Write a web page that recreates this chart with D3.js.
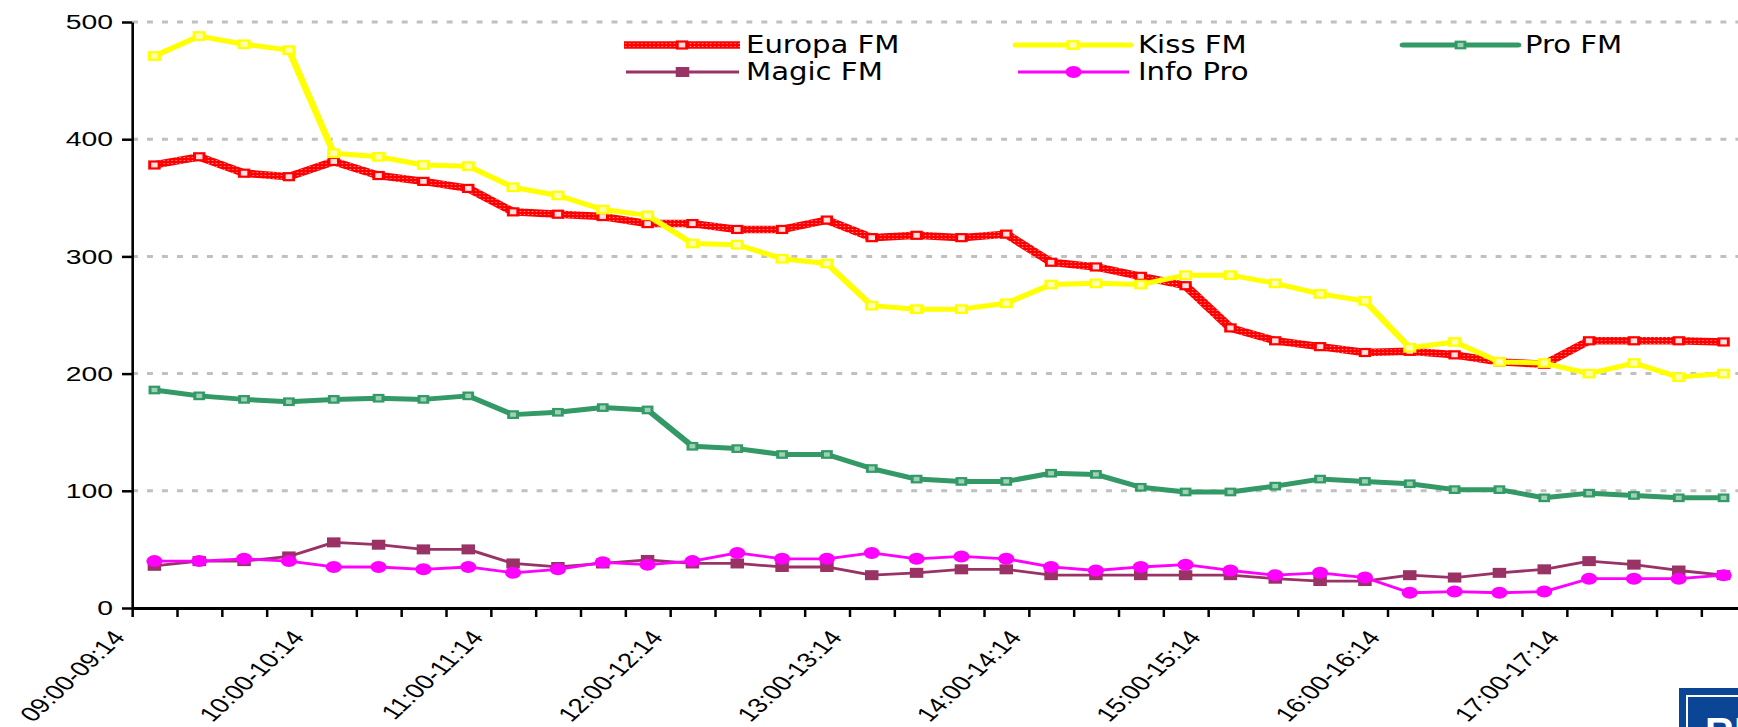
<!DOCTYPE html>
<html>
<head>
<meta charset="utf-8">
<script src="https://cdn.jsdelivr.net/npm/d3@7/dist/d3.min.js"></script>
<style>
  html, body { margin: 0; padding: 0; background: #fff; }
  svg { display: block; }
</style>
</head>
<body>
<div id="chart"></div>
<script>
// ---------------- DATA ----------------
const categories = [
  "09:00-09:14","09:15-09:29","09:30-09:44","09:45-09:59",
  "10:00-10:14","10:15-10:29","10:30-10:44","10:45-10:59",
  "11:00-11:14","11:15-11:29","11:30-11:44","11:45-11:59",
  "12:00-12:14","12:15-12:29","12:30-12:44","12:45-12:59",
  "13:00-13:14","13:15-13:29","13:30-13:44","13:45-13:59",
  "14:00-14:14","14:15-14:29","14:30-14:44","14:45-14:59",
  "15:00-15:14","15:15-15:29","15:30-15:44","15:45-15:59",
  "16:00-16:14","16:15-16:29","16:30-16:44","16:45-16:59",
  "17:00-17:14","17:15-17:29","17:30-17:44","17:45-17:59"
];
const europaFM = [378,385,371,368,381,369,364,358,338,336,334,328,328,323,323,331,316,318,316,319,295,291,283,275,239,228,223,218,219,216,210,208,228,228,228,227];
const kissFM   = [471,488,481,476,388,385,378,377,359,352,340,335,311,310,298,294,258,255,255,260,276,277,276,284,284,277,268,262,222,227,210,209,200,209,197,200];
const proFM    = [186,181,178,176,178,179,178,181,165,167,171,169,138,136,131,131,119,110,108,108,115,114,103,99,99,104,110,108,106,101,101,94,98,96,94,94];
const magicFM  = [36,40,40,44,56,54,50,50,38,35,38,41,38,38,35,35,28,30,33,33,28,28,28,28,28,25,23,23,28,26,30,33,40,37,32,28];
const infoPro  = [40,40,42,40,35,35,33,35,30,33,39,37,40,47,42,42,47,42,44,42,35,32,35,37,32,28,30,26,13,14,13,14,25,25,25,28];
const yTicks = [0,100,200,300,400,500];
const seriesNames = ["Europa FM","Kiss FM","Pro FM","Magic FM","Info Pro"];

// ---------------- LAYOUT ----------------
const W = 1738, H = 727;
const S = 1.35; // horizontal stretch of the original picture
const svg = d3.select("#chart").append("svg").attr("width", W).attr("height", H);

const defs = svg.append("defs");
const pat = defs.append("pattern").attr("id","redTex").attr("patternUnits","userSpaceOnUse")
  .attr("width",3).attr("height",3);
pat.append("rect").attr("width",3).attr("height",3).attr("fill","#ff0000");
pat.append("rect").attr("x",1).attr("y",1).attr("width",1).attr("height",1).attr("fill","#ff9c9c");

const g = svg.append("g").attr("transform", `scale(${S},1)`);

const x = d3.scaleBand().domain(categories).range([132 / S, 1746 / S]);
const xi = d3.scaleLinear().domain([0, categories.length]).range(x.range());
const y = d3.scaleLinear().domain([0, 500]).range([608, 22]);
const cx = c => x(c) + x.bandwidth() / 2;

// gridlines
g.append("g").selectAll("line").data(yTicks.filter(v => v > 0)).join("line")
  .attr("x1", 132 / S).attr("x2", W / S)
  .attr("y1", d => y(d)).attr("y2", d => y(d))
  .attr("stroke", "#c0c0c0").attr("stroke-width", 3)
  .attr("stroke-dasharray", "4.4,6.7");

// y axis
const yAxis = g.append("g").attr("transform", `translate(${132 / S},0)`)
  .call(d3.axisLeft(y).tickValues(yTicks).tickSize(10 / S).tickSizeOuter(0).tickPadding(9 / S));
yAxis.select(".domain").attr("stroke", "#000").attr("stroke-width", 2.6 / S);
yAxis.selectAll(".tick line").attr("stroke", "#000").attr("stroke-width", 2.5);
yAxis.selectAll(".tick text").attr("font-family", "'Liberation Sans', Arial, sans-serif")
  .attr("font-size", 21).attr("fill", "#000");

// x axis (tick marks at category boundaries)
const xAxis = g.append("g").attr("transform", `translate(0,${y(0)})`)
  .call(d3.axisBottom(xi).tickValues(d3.range(0, categories.length + 1)).tickFormat("")
    .tickSize(9).tickSizeOuter(0));
xAxis.select(".domain").attr("stroke", "#000").attr("stroke-width", 3)
  .attr("d", `M${132 / S},0.5H${W / S}`);
xAxis.selectAll(".tick line").attr("stroke", "#000").attr("stroke-width", 2.5 / S);

// x labels every hour
g.append("g").selectAll("text").data(categories.filter((c, i) => i % 4 === 0)).join("text")
  .attr("transform", c => `translate(${cx(c) - 21},638) rotate(-51)`)
  .attr("text-anchor", "end")
  .attr("font-family", "'Liberation Sans', Arial, sans-serif")
  .attr("font-size", 20.5).attr("fill", "#000")
  .text(c => c);

// series
const series = [
  {name: seriesNames[0], values: europaFM, stroke: "url(#redTex)", sw: 7.5, marker: "hsq", mStroke: "#ff0000", mFill: "#ffe0e0", mSize: 7},
  {name: seriesNames[1], values: kissFM, stroke: "#ffff00", sw: 5, marker: "hsq", mStroke: "#ffff00", mFill: "#ffffb0", mSize: 7.5},
  {name: seriesNames[2], values: proFM, stroke: "#339966", sw: 5, marker: "hsq", mStroke: "#339966", mFill: "#9fd2b5", mSize: 6.5},
  {name: seriesNames[3], values: magicFM, stroke: "#993366", sw: 2.8, marker: "fsq", mStroke: "#993366", mFill: "#993366", mSize: 10},
  {name: seriesNames[4], values: infoPro, stroke: "#ff00ff", sw: 2.8, marker: "circ", mStroke: "#ff00ff", mFill: "#ff00ff", mSize: 6}
];

const line = d3.line().x((d, i) => cx(categories[i])).y(d => y(d));

function drawMarker(sel, s, px, py) {
  if (s.marker === "circ") {
    sel.append("circle").attr("cx", px).attr("cy", py).attr("r", s.mSize).attr("fill", s.mFill);
  } else if (s.marker === "fsq") {
    sel.append("rect").attr("x", px - s.mSize / 2).attr("y", py - s.mSize / 2)
      .attr("width", s.mSize).attr("height", s.mSize).attr("fill", s.mFill);
  } else {
    sel.append("rect").attr("x", px - s.mSize / 2).attr("y", py - s.mSize / 2)
      .attr("width", s.mSize).attr("height", s.mSize).attr("fill", s.mFill)
      .attr("stroke", s.mStroke).attr("stroke-width", 2.2);
  }
}

series.forEach(s => {
  const sg = g.append("g");
  sg.append("path").datum(s.values).attr("d", line).attr("fill", "none")
    .attr("stroke", s.stroke).attr("stroke-width", s.sw).attr("stroke-linejoin", "round");
  s.values.forEach((v, i) => drawMarker(sg, s, cx(categories[i]), y(v)));
});

// legend
const legendPos = [
  {x1: 624, x2: 740, y: 45, tx: 746},
  {x1: 1016, x2: 1130, y: 45, tx: 1138},
  {x1: 1403, x2: 1518, y: 45, tx: 1525},
  {x1: 626, x2: 739, y: 72, tx: 746},
  {x1: 1018, x2: 1129, y: 72, tx: 1138}
];
series.forEach((s, i) => {
  const p = legendPos[i];
  const lg = g.append("g");
  lg.append("line").attr("x1", p.x1 / S).attr("x2", p.x2 / S).attr("y1", p.y).attr("y2", p.y)
    .attr("stroke", s.stroke).attr("stroke-width", s.sw).attr("stroke-linecap", s.sw > 4 && i > 0 ? "round" : "butt");
  drawMarker(lg, s, (p.x1 + p.x2) / 2 / S, p.y);
  lg.append("text").attr("x", p.tx / S).attr("y", p.y + 8)
    .attr("font-family", "'Liberation Sans Narrow', 'DejaVu Sans Condensed', Arial, sans-serif")
    .attr("font-size", 24).attr("fill", "#000").text(s.name);
});

// logo fragment bottom-right
const logo = svg.append("g");
logo.append("rect").attr("x", 1679).attr("y", 688).attr("width", 80).attr("height", 60).attr("fill", "#0b4596");
logo.append("rect").attr("x", 1687).attr("y", 696).attr("width", 70).attr("height", 50)
  .attr("fill", "none").attr("stroke", "#ffffff").attr("stroke-width", 2);
logo.append("text").attr("x", 1705).attr("y", 746).attr("font-family", "'Liberation Sans', Arial, sans-serif")
  .attr("font-weight", "bold").attr("font-size", 40).attr("fill", "#fff").text("RE");
</script>
</body>
</html>
